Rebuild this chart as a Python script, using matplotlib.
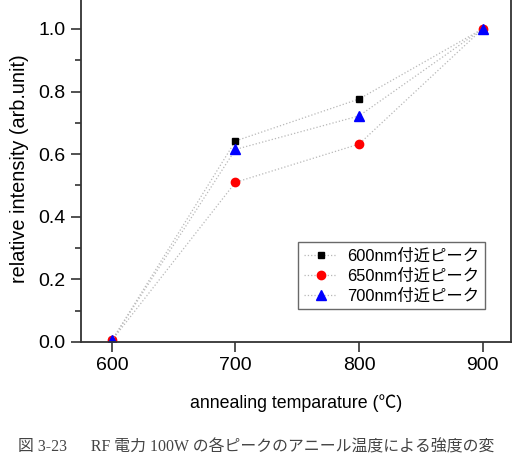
import matplotlib
matplotlib.use("Agg")
import matplotlib.pyplot as plt
from matplotlib.ticker import MultipleLocator

plt.rcParams['font.family'] = ['Liberation Sans', 'Noto Sans CJK JP', 'DejaVu Sans']

# annealing temperature (C)
temps = [600, 700, 800, 900]
# relative intensity for each peak
peak600 = [0.005, 0.642, 0.776, 1.0]
peak650 = [0.005, 0.510, 0.632, 1.0]
peak700 = [0.005, 0.615, 0.722, 1.0]
labels = ['600nm付近ピーク', '650nm付近ピーク', '700nm付近ピーク']
# caption is cropped at the right edge in the source picture
caption = '図 3-23　  RF 電力 100W の各ピークのアニール温度による強度の変'

fig = plt.figure(figsize=(5.17, 4.63), dpi=100)
# axes top lies just above the picture edge (cropped like the original)
ax = fig.add_axes([81/517, 1 - 342/463, (511-81)/517, 346/463])

line_kw = dict(color='#b8b8b8', linestyle=':', linewidth=0.9)
ax.plot(temps, peak600, marker='s', markersize=5, markerfacecolor='black',
        markeredgecolor='black', label=labels[0], **line_kw)
ax.plot(temps, peak650, marker='o', markersize=6, markerfacecolor='red',
        markeredgecolor='red', label=labels[1], **line_kw)
ax.plot(temps, peak700, marker='^', markersize=6.5, markerfacecolor='blue',
        markeredgecolor='blue', label=labels[2], **line_kw)

ax.set_xlim(575, 923)
ax.set_ylim(0, 1.105)
ax.set_xticks(temps)
ax.yaxis.set_major_locator(MultipleLocator(0.2))
ax.yaxis.set_minor_locator(MultipleLocator(0.1))
ax.yaxis.set_major_formatter(matplotlib.ticker.FormatStrFormatter('%.1f'))
ax.tick_params(direction='out', length=7, width=1.2, labelsize=14,
               color='#333333', pad=4)
ax.tick_params(which='minor', direction='out', length=4, width=1.2, color='#333333')
for s in ax.spines.values():
    s.set_linewidth(1.3)
    s.set_color('#333333')

ax.set_xlabel('annealing temparature (℃)', fontsize=12.8, labelpad=14)
ax.set_ylabel('relative intensity (arb.unit)', fontsize=14.3, labelpad=7)

leg = ax.legend(loc='lower right', bbox_to_anchor=(0.95, 0.08), fontsize=11.8,
                frameon=True, fancybox=False, edgecolor='#444444',
                handlelength=2.0, handletextpad=0.6, borderpad=0.35,
                labelspacing=0.3, borderaxespad=0.3)
leg.get_frame().set_linewidth(1.0)

fig.text(18/517, 1 - 447/463, caption, fontsize=11.4, color='#444444',
         family=['Liberation Serif', 'Noto Sans CJK JP', 'DejaVu Sans'],
         va='center', ha='left')

fig.savefig('out.png', dpi=100)
